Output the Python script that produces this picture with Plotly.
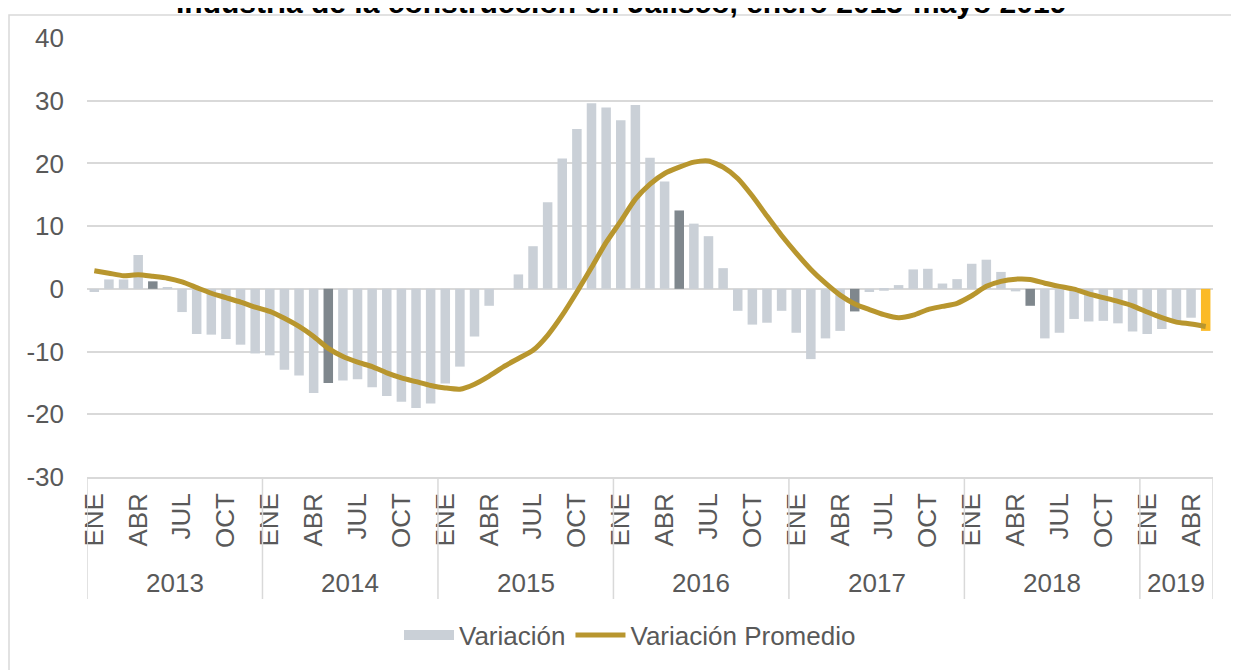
import plotly.graph_objects as go

# ---------------- data ----------------
years = ["2013", "2014", "2015", "2016", "2017", "2018", "2019"]
months = ["ENE", "FEB", "MAR", "ABR", "MAY", "JUN", "JUL", "AGO", "SEP", "OCT", "NOV", "DIC"]
months_2019 = 5
shown_months = ["ENE", "ABR", "JUL", "OCT"]
y_ticks = [-30, -20, -10, 0, 10, 20, 30, 40]
y_tick_labels = ["-30", "-20", "-10", "0", "10", "20", "30", "40"]

variacion = [
    -0.5, 1.5, 1.5, 5.4, 1.2, 0.3, -3.7, -7.2, -7.3, -8.0, -8.9, -10.3,          # 2013
    -10.6, -12.9, -13.8, -16.6, -15.0, -14.6, -14.4, -15.7, -17.1, -18.0, -19.0, -18.3,  # 2014
    -15.1, -12.4, -7.6, -2.7, 0.0, 2.3, 6.8, 13.8, 20.8, 25.5, 29.6, 28.9,      # 2015
    26.9, 29.3, 20.9, 17.1, 12.5, 10.4, 8.4, 3.3, -3.5, -5.7, -5.4, -3.5,       # 2016
    -7.0, -11.2, -7.9, -6.7, -3.6, -0.5, -0.3, 0.6, 3.1, 3.2, 0.85, 1.55,       # 2017
    4.0, 4.65, 2.7, -0.4, -2.7, -7.9, -7.0, -4.8, -5.2, -5.1, -5.5, -6.8,       # 2018
    -7.2, -6.4, -5.3, -4.6, -6.7,                                               # 2019
]

variacion_promedio = [
    2.9, 2.5, 2.1, 2.25, 2.0, 1.7, 1.1, 0.2, -0.7, -1.4, -2.1, -2.9,             # 2013
    -3.6, -4.7, -6.0, -7.6, -9.5, -10.8, -11.7, -12.4, -13.4, -14.2, -14.8, -15.4,  # 2014
    -15.8, -16.0, -15.2, -13.9, -12.4, -11.1, -9.8, -7.4, -4.2, -0.5, 3.4, 7.4,  # 2015
    10.8, 14.3, 16.7, 18.4, 19.4, 20.2, 20.4, 19.4, 17.6, 14.8, 11.6, 8.5,      # 2016
    5.7, 3.1, 0.9, -1.0, -2.4, -3.3, -4.1, -4.6, -4.2, -3.3, -2.8, -2.3,        # 2017
    -1.1, 0.4, 1.2, 1.55, 1.5, 0.9, 0.4, -0.05, -0.8, -1.4, -2.0, -2.7,         # 2018
    -3.7, -4.6, -5.3, -5.6, -6.0,                                               # 2019
]

title_text = "Industria de la construcción en Jalisco, enero 2013-mayo 2019"

# ---------------- styling ----------------
FONT = "Liberation Sans, Arial, sans-serif"
FS = 26
TXT = "#595959"
GRID = "#D9D9D9"
C_BAR = "#CAD0D7"
C_MAY = "#7F878D"
C_LAST = "#FBBA26"
C_LINE = "#B8962E"

# month/year label for every observation
month_of = []
year_of = []
for y in years:
    n = months_2019 if y == years[-1] else 12
    for m in months[:n]:
        month_of.append(m)
        year_of.append(y)
x_idx = list(range(len(variacion)))

bar_colors = []
for i, (m, y) in enumerate(zip(month_of, year_of)):
    if i == len(variacion) - 1:
        bar_colors.append(C_LAST)
    elif m == "MAY":
        bar_colors.append(C_MAY)
    else:
        bar_colors.append(C_BAR)

fig = go.Figure()
fig.add_trace(go.Bar(
    x=x_idx, y=variacion, name="Variación", showlegend=False,
    marker=dict(color=bar_colors, line=dict(width=0)),
))
# legend swatch for the bars (wide rectangle like the original)
fig.add_trace(go.Scatter(
    x=[None], y=[None], name="Variación", mode="lines",
    line=dict(color=C_BAR, width=14),
))
fig.add_trace(go.Scatter(
    x=x_idx, y=variacion_promedio, name="Variación Promedio", mode="lines",
    line=dict(color=C_LINE, width=5, shape="spline", smoothing=0.6),
))

tickvals = [i for i, m in enumerate(month_of) if m in shown_months]
ticktext = [month_of[i] for i in tickvals]

# year group boundaries and centres
starts = [year_of.index(y) for y in years]
ends = [len(year_of) - 1 - year_of[::-1].index(y) for y in years]

PH = 439.0   # plot height in px
PW = 1126.0  # plot width in px

shapes = []
for s in starts + [ends[-1] + 1]:
    shapes.append(dict(type="line", xref="x", yref="paper", x0=s - 0.5, x1=s - 0.5,
                       y0=0, y1=-122 / PH, line=dict(color=GRID, width=1.5)))
# outer chart border
shapes.append(dict(type="rect", xref="paper", yref="paper",
                   x0=-78 / PW, x1=1.06, y0=-0.6, y1=1 + 23 / PH,
                   line=dict(color=GRID, width=1.5), fillcolor="rgba(0,0,0,0)", layer="below"))

annotations = []
for y, s, e in zip(years, starts, ends):
    annotations.append(dict(x=(s + e) / 2, y=-106 / PH, xref="x", yref="paper",
                            text=y, showarrow=False, yanchor="middle", xanchor="center",
                            font=dict(size=FS, color=TXT, family=FONT)))
annotations.append(dict(x=(621 - 87) / PW, y=1 + 36 / PH, xref="paper", yref="paper",
                        text="<b>" + title_text + "</b>", showarrow=False,
                        yanchor="middle", xanchor="center",
                        font=dict(size=30, color="#000000", family=FONT)))

fig.update_layout(
    width=1231, height=662,
    margin=dict(l=79, r=26, t=30, b=193, autoexpand=False),
    paper_bgcolor="white", plot_bgcolor="white",
    font=dict(family=FONT, color=TXT, size=FS),
    bargap=0.35,
    showlegend=True,
    legend=dict(orientation="h", x=(630 - 87) / PW, xanchor="center",
                y=-158 / PH, yanchor="middle",
                font=dict(size=FS, color=TXT, family=FONT),
                itemwidth=50, traceorder="normal"),
    shapes=shapes,
    annotations=annotations,
)
fig.update_yaxes(range=[-30, 40], tickmode="array", tickvals=y_ticks, ticktext=y_tick_labels,
                 showgrid=True, gridcolor=GRID, gridwidth=1.5, automargin=False,
                 zeroline=False, showline=False, ticks="", ticklabelstandoff=22,
                 tickfont=dict(size=FS, color=TXT, family=FONT))
fig.update_xaxes(range=[-0.5, len(variacion) - 0.5], showgrid=False, zeroline=False,
                 showline=True, linecolor=GRID, linewidth=1.5, automargin=False,
                 tickmode="array", tickvals=tickvals, ticktext=ticktext, tickangle=-90,
                 ticks="", ticklabelstandoff=4,
                 tickfont=dict(size=FS, color=TXT, family=FONT))

fig.write_html("out.html")
